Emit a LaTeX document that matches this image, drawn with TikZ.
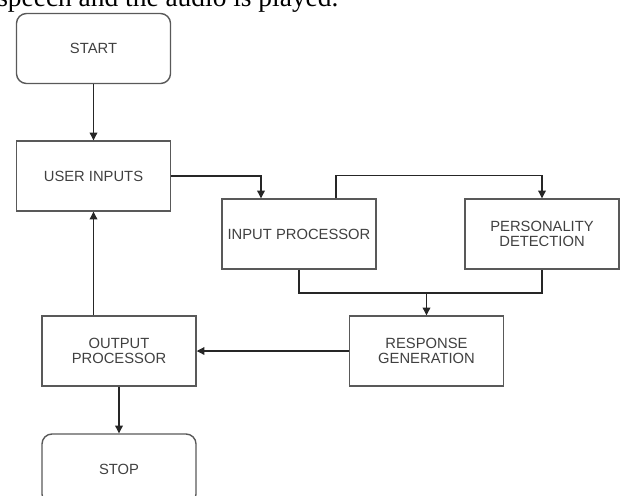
\documentclass[tikz,border=0pt]{standalone}
\usepackage{fontspec}
\setmainfont{Liberation Sans}
\newfontfamily\captionserif{Liberation Serif}
\usetikzlibrary{arrows.meta,calc}

\begin{document}
\begin{tikzpicture}[x=0.025cm, y=-0.025cm,
    box/.style={rectangle, draw=black!65, line width=1pt, minimum width=3.85cm, minimum height=1.75cm,
        align=center, text=black!75, font=\fontsize{10.5}{11}\selectfont},
    endbox/.style={box, rounded corners=0.25cm},
    arr/.style={-{Triangle[length=5.5pt,width=5.5pt]}, draw=black!85, line width=0.8pt},
    link/.style={draw=black!85, line width=0.8pt}]
    \useasboundingbox (0,0) rectangle (622,495);

    % Zeile vom Text darueber
    \node (caption) at (-3,6) [anchor=base west, inner sep=0pt, font=\captionserif\fontsize{19.5}{21}\selectfont] {speech and the audio is played.};

    % Kaesten
    \node (start) at (93.5,48.5) [endbox] {START};
    \node (user) at (93.5,176) [box] {USER INPUTS};
    \node (inproc) at (299,234) [box] {INPUT PROCESSOR};
    \node (person) at (542,234) [box] {PERSONALITY\\DETECTION};
    \node (resp) at (426.5,351) [box] {RESPONSE\\GENERATION};
    \node (outproc) at (119,351) [box] {OUTPUT\\PROCESSOR};
    \node (stop) at (119,469) [endbox] {STOP};

    % Verbindungen
    \coordinate (join) at (426.5,293);
    \draw[arr] (start) -- (user);
    \draw[arr] (user.east) -| ($(inproc.north)+(-38,0)$);
    \draw[arr] ($(inproc.north)+(37,0)$) -- ++(0,-23) -| (person.north);
    \draw[link] (inproc.south) |- (join) -| (person.south);
    \draw[arr] (join) -- (resp.north);
    \draw[arr] (resp.west) -- (outproc.east);
    \draw[arr] (outproc.north -| user.south) -- (user.south);
    \draw[arr] (outproc.south) -- (stop.north);

\end{tikzpicture}
\end{document}
